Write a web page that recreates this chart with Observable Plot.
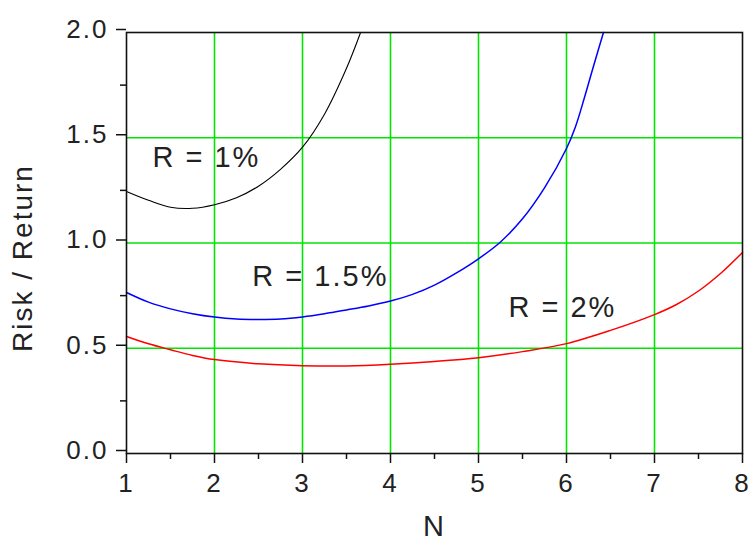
<!DOCTYPE html>
<html>
<head>
<meta charset="utf-8">
<script src="https://cdn.jsdelivr.net/npm/d3@7"></script>
<script src="https://cdn.jsdelivr.net/npm/@observablehq/plot@0.6"></script>
<style>
  html, body { margin: 0; padding: 0; background: #fff; }
</style>
</head>
<body>
<div id="chart"></div>
<script>
// R = 1%
const n1 = [1, 1.25, 1.5, 1.75, 2, 2.25, 2.5, 2.75, 3, 3.25, 3.5, 3.66];
const v1 = [1.245, 1.203, 1.17, 1.165, 1.182, 1.215, 1.27, 1.35, 1.455, 1.612, 1.83, 2.0];
// R = 1.5%
const n15 = [1, 1.25, 1.5, 1.75, 2, 2.25, 2.5, 2.75, 3, 3.25, 3.5, 3.75, 4, 4.25, 4.5, 4.75, 5, 5.25, 5.5, 5.75, 6, 6.1, 6.2, 6.3, 6.42];
const v15 = [0.765, 0.719, 0.687, 0.664, 0.648, 0.639, 0.637, 0.639, 0.649, 0.664, 0.682, 0.701, 0.724, 0.756, 0.8, 0.858, 0.925, 1.005, 1.115, 1.262, 1.449, 1.55, 1.685, 1.83, 2.0];
// R = 2%
const n2 = [1, 1.25, 1.5, 1.75, 2, 2.5, 3, 3.5, 4, 4.5, 5, 5.5, 6, 6.5, 7, 7.25, 7.5, 7.75, 8];
const v2 = [0.556, 0.521, 0.493, 0.466, 0.446, 0.426, 0.417, 0.416, 0.424, 0.437, 0.455, 0.484, 0.522, 0.585, 0.66, 0.708, 0.772, 0.855, 0.955];

const seriesNames = ["R = 1%", "R = 1.5%", "R = 2%"];
const seriesColors = ["#000000", "#0000ff", "#ff0000"];
const labelN = [1.295, 2.43, 5.34];
const labelV = [1.406, 0.841, 0.691];

const xTicks = [1, 2, 3, 4, 5, 6, 7, 8];
const xMinor = [1.5, 2.5, 3.5, 4.5, 5.5, 6.5, 7.5];
const yTicks = [0, 0.5, 1.0, 1.5, 2.0];
const yMinor = [0.25, 0.75, 1.25, 1.75];
const xGrid = [2, 3, 4, 5, 6, 7];
const yGrid = [0.5, 1.0, 1.5];
const xTitle = ["N"];
const yTitle = ["Risk / Return"];

const toRows = (ns, vs, s) => ns.map((n, i) => ({n, v: vs[i], s}));
const rows = [
  ...toRows(n1, v1, seriesNames[0]),
  ...toRows(n15, v15, seriesNames[1]),
  ...toRows(n2, v2, seriesNames[2])
];
const labels = seriesNames.map((s, i) => ({s, n: labelN[i], v: labelV[i]}));

const font = "'Liberation Sans', Arial, sans-serif";
const textColor = "#222";

const chart = Plot.plot({
  width: 748,
  height: 541,
  marginLeft: 126,
  marginRight: 6,
  marginTop: 32,
  marginBottom: 88,
  style: {fontFamily: font, background: "#fff", color: "#111", overflow: "visible"},
  x: {domain: [1, 8]},
  y: {domain: [0, 2]},
  color: {domain: seriesNames, range: seriesColors},
  marks: [
    Plot.gridX(xGrid, {stroke: "#00e600", strokeOpacity: 1, strokeWidth: 1.6}),
    Plot.gridY(yGrid, {stroke: "#00e600", strokeOpacity: 1, strokeWidth: 1.6}),
    Plot.line(rows, {x: "n", y: "v", z: "s", stroke: d => d.s, strokeWidth: d => d.s === seriesNames[0] ? 1.1 : 1.5, curve: "catmull-rom"}),
    Plot.text(labels, {x: "n", y: "v", text: "s", textAnchor: "start", lineAnchor: "middle", fontSize: 29, fill: textColor, style: "letter-spacing:1.5px"}),
    Plot.frame({stroke: "#111", strokeWidth: 1.6}),
    Plot.axisX(xTicks, {tickSize: 10, tickPadding: 10, fontSize: 26, fill: textColor, stroke: "#111", strokeWidth: 1.5, tickFormat: d => String(d), label: null}),
    Plot.axisX(xMinor, {tickSize: 6, tickFormat: () => "", stroke: "#111", strokeWidth: 1.5, label: null}),
    Plot.axisY(yTicks, {tickSize: 10, tickPadding: 8, fontSize: 26, dy: -3, fill: textColor, stroke: "#111", strokeWidth: 1.5, tickFormat: d3.format(".1f"), label: null}),
    Plot.axisY(yMinor, {tickSize: 6, tickFormat: () => "", stroke: "#111", strokeWidth: 1.5, label: null}),
    Plot.text(xTitle, {text: d => d, frameAnchor: "bottom", textAnchor: "middle", lineAnchor: "top", dy: 62, fontSize: 29, fill: textColor}),
    Plot.text(yTitle, {text: d => d, frameAnchor: "left", textAnchor: "middle", rotate: -90, lineAnchor: "middle", dx: -103, dy: 15, fontSize: 28, fill: textColor})
  ]
});
chart.querySelectorAll("text").forEach(t => {
  if (!t.getAttribute("style")) t.style.letterSpacing = "2px";
});
document.getElementById("chart").appendChild(chart);
</script>
</body>
</html>
